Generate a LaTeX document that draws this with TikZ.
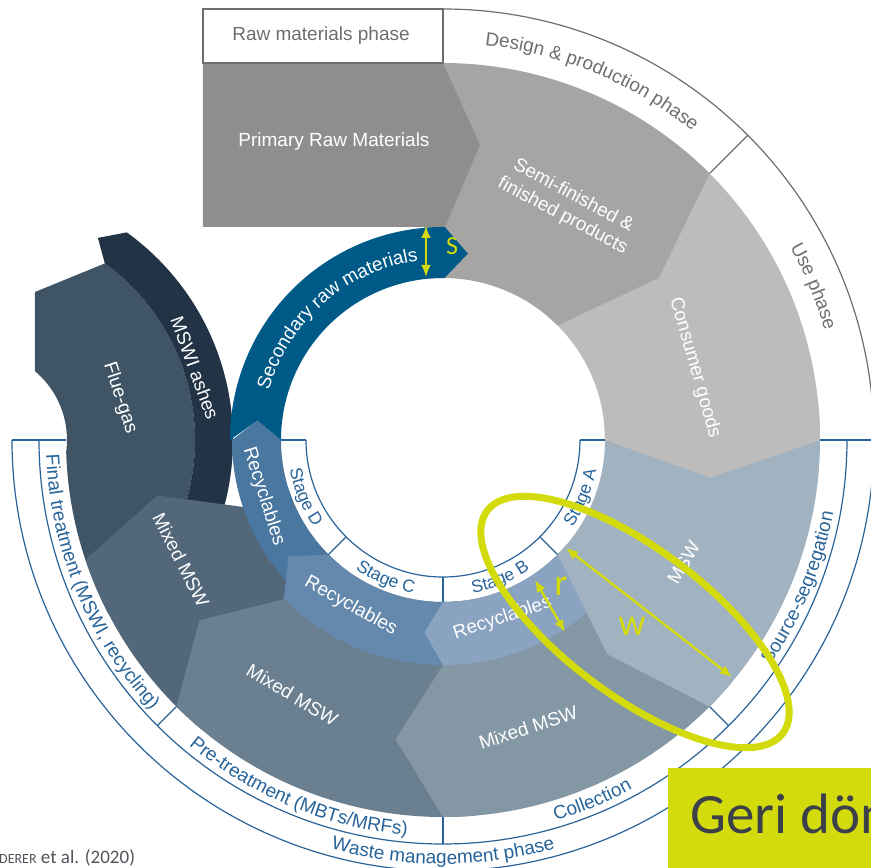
\documentclass[tikz,border=0pt]{standalone}
\usepackage{fontspec}
\setmainfont{Liberation Sans}
\newfontfamily\calfont{Carlito}
\usepackage{tikz}
\usetikzlibrary{arrows.meta, decorations.text}
\definecolor{rawgrey}{HTML}{8F8E8D}
\definecolor{semigrey}{HTML}{A6A5A4}
\definecolor{usegrey}{HTML}{BDBCBB}
\definecolor{mswblue}{HTML}{A1B3C1}
\definecolor{collmix}{HTML}{8497A5}
\definecolor{premix}{HTML}{6A7F8F}
\definecolor{finalmix}{HTML}{52677A}
\definecolor{fluegas}{HTML}{3F5566}
\definecolor{ashes}{HTML}{223345}
\definecolor{recB}{HTML}{8AA3C0}
\definecolor{recC}{HTML}{6589AD}
\definecolor{recD}{HTML}{4A77A0}
\definecolor{secblue}{HTML}{005A87}
\definecolor{ringblue}{HTML}{28649A}
\definecolor{ringgrey}{HTML}{6E6E6E}
\definecolor{hilite}{HTML}{D4DB0D}
\definecolor{boxtext}{HTML}{3C4048}
\newcommand{\bluetxt}{\fontsize{19}{21}\selectfont\color{ringblue}}
\newcommand{\greytxt}{\fontsize{19}{21}\selectfont\color{ringgrey}}
\newcommand{\stagetxt}{\fontsize{17.5}{19}\selectfont\color{ringblue}}
\newcommand{\whitetxt}{\fontsize{19}{21}\selectfont\color{white}}
\tikzset{
  lbl1/.style = {
    text = white,
    font = \fontsize{19}{23}\selectfont,
    inner sep = 0pt,
    align = center,
  }
}
\tikzset{
  ring1/.style = {draw = ringblue, line width = 1.2pt},
  ring2/.style = {draw = ringgrey, line width = 1.2pt},
}
\tikzset{
  curve1/.style = {
    decorate, decoration = {text along path, text align = center, text = {#1}},
  }
}
\tikzset{
  arrow1/.style = {
    draw = hilite, line width = 2.4pt, {Latex[length = 12pt, width = 10pt]}-{Latex[length = 12pt, width = 10pt]},
  }
}

\begin{document}
\begin{tikzpicture}[x = 1pt, y = 1pt]
        \useasboundingbox (-443,-428) rectangle (428,440);
        \clip (-443,-428) rectangle (428,440);
        \begin{scope}
            \clip (-443,0) -- (-443,440) -- (443,440) -- (443,0) -- (377,0) arc[start angle = 0, end angle = -180, radius = 377] -- cycle;
            \fill[fluegas] ([shift = {(-466,0)}]54.1:218) -- (-408,148) -- ([shift = {(-466,0)}]50:90) arc[start angle = 50, end angle = -70, radius = 90] -- ([shift = {(-466,0)}]-70:218) arc[start angle = -70, end angle = 54.1, radius = 218] -- cycle;
            \fill[ashes] ([shift = {(-466,0)}]54.2:256) -- ([shift = {(-466,0)}]59.1:235.5) -- ([shift = {(-466,0)}]54.1:218) arc[start angle = 54.1, end angle = -40, radius = 218] -- ([shift = {(-466,0)}]-40:256) arc[start angle = -40, end angle = 54.2, radius = 256] -- cycle;
        \end{scope}
        \fill[finalmix] (-130:162) arc[start angle = -130, end angle = -161.5, radius = 162] -- (-161.5:211) -- (-169:291) -- (-161.5:377) arc[start angle = -161.5, end angle = -130, radius = 377] -- cycle;
        \fill[premix] (-85:162) arc[start angle = -85, end angle = -135, radius = 162] -- (-135:225) -- (-143.5:303) -- (-135:377) arc[start angle = -135, end angle = -85, radius = 377] -- cycle;
        \fill[collmix] (-40:162) arc[start angle = -40, end angle = -90, radius = 162] -- (-90:225) -- (-99:303) -- (-90:377) arc[start angle = -90, end angle = -40, radius = 377] -- cycle;
        \fill[recD] (-130:162) arc[start angle = -130, end angle = -180, radius = 162] -- (-186:186.5) -- (-180:211) arc[start angle = -180, end angle = -130, radius = 211] -- cycle;
        \fill[recC] (-85:162) arc[start angle = -85, end angle = -135, radius = 162] -- (-143:193.5) -- (-135:225) arc[start angle = -135, end angle = -85, radius = 225] -- cycle;
        \fill[recB] (-40:162) arc[start angle = -40, end angle = -90, radius = 162] -- (-95.5:193.5) -- (-90:225) arc[start angle = -90, end angle = -40, radius = 225] -- cycle;
        \fill[mswblue] (5:162) arc[start angle = 5, end angle = -45, radius = 162] -- (-52.5:270) -- (-45:377) arc[start angle = -45, end angle = 5, radius = 377] -- cycle;
        \fill[usegrey] (50:162) arc[start angle = 50, end angle = 0, radius = 162] -- (-8:270) -- (0:377) arc[start angle = 0, end angle = 50, radius = 377] -- cycle;
        \fill[semigrey] (95:162) arc[start angle = 95, end angle = 45, radius = 162] -- (36.9:270) -- (45:377) arc[start angle = 45, end angle = 95, radius = 377] -- cycle;
        \fill[rawgrey] (-240,377) -- (0,377) -- (37,295) -- (2,213) -- (-240,213) -- cycle;
        \fill[secblue] (180:162) -- (174:186.5) -- (180:213) arc[start angle = 180, end angle = 89.5, radius = 213] -- (82.4:188) -- (89.5:162) arc[start angle = 89.5, end angle = 180, radius = 162] -- cycle;

        \draw[ring2] (-240,377) rectangle (0,431);
        \draw[ring2] (90:431) arc[start angle = 90, end angle = 0, radius = 431];
        \draw[ring2] (45:377) -- (45:431);
        \draw[ring1] (0:431) arc[start angle = 0, end angle = -180, radius = 431];
        \draw[ring1] (0:404) arc[start angle = 0, end angle = -180, radius = 404];
        \draw[ring1] (377,0) -- (431,0);
        \draw[ring1] (-377,0) -- (-431,0);
        \draw[ring1] (0:137) arc[start angle = 0, end angle = -180, radius = 137];
        \draw[ring1] (137,0) -- (162,0);
        \draw[ring1] (-137,0) -- (-162,0);
        \foreach \a in {-45,-90,-135} {
            \draw[ring1] (\a:377) -- (\a:404);
            \draw[ring1] (\a:137) -- (\a:162);
        }

        \node[text = ringgrey, font = \fontsize{19}{21}\selectfont] (rawph) at (-122,404) {Raw materials phase};
        \path[curve1 = {|\greytxt|Design {\&} production phase}] (90:397) arc[start angle = 90, end angle = 45, radius = 397];
        \path[curve1 = {|\greytxt|Use phase}] (45:397) arc[start angle = 45, end angle = 0, radius = 397];
        \path[curve1 = {|\bluetxt|Source-segregation}] (-45:397) arc[start angle = -45, end angle = 0, radius = 397];
        \path[curve1 = {|\bluetxt|Collection}] (-90:397) arc[start angle = -90, end angle = -45, radius = 397];
        \path[curve1 = {|\bluetxt|Pre-treatment (MBTs/MRFs)}] (-135:397) arc[start angle = -135, end angle = -90, radius = 397];
        \path[curve1 = {|\bluetxt|Final treatment (MSWI, recycling)}] (-180:397) arc[start angle = -180, end angle = -135, radius = 397];
        \path[curve1 = {|\bluetxt|Waste management phase}] (-120:424) arc[start angle = -120, end angle = -60, radius = 424];
        \path[curve1 = {|\stagetxt|Stage A}] (-45:156) arc[start angle = -45, end angle = 0, radius = 156];
        \path[curve1 = {|\stagetxt|Stage B}] (-90:156) arc[start angle = -90, end angle = -45, radius = 156];
        \path[curve1 = {|\stagetxt|Stage C}] (-135:156) arc[start angle = -135, end angle = -90, radius = 156];
        \path[curve1 = {|\stagetxt|Stage D}] (-180:156) arc[start angle = -180, end angle = -135, radius = 156];
        \path[curve1 = {|\whitetxt|Secondary raw materials}] (172:181) arc[start angle = 172, end angle = 90, radius = 181];

        \node[lbl1] (prim) at (-109,298) {Primary Raw Materials};
        \node[lbl1, rotate = -28] (semi) at (125,234) {Semi-finished \&\\finished products};
        \node[lbl1, rotate = -74] (cons) at (16:262) {Consumer goods};
        \node[lbl1, rotate = 60] (msw) at (-27:270) {MSW};
        \node[lbl1, rotate = 18] (mixA) at (-73.5:300) {Mixed MSW};
        \node[lbl1, rotate = -31] (mixB) at (-120.6:296) {Mixed MSW};
        \node[lbl1, rotate = -63] (mixC) at (-155.4:288) {Mixed MSW};
        \node[lbl1, rotate = -72] (flue) at (-323,42) {Flue-gas};
        \node[lbl1, rotate = -70] (ash) at (-248,72) {MSWI ashes};
        \node[lbl1, rotate = -72.5] (recD1) at (-162.5:188) {Recyclables};
        \node[lbl1, rotate = -29] (recC1) at (-119:190) {Recyclables};
        \node[lbl1, rotate = 18.5] (recB1) at (-71.5:188) {Recyclables};

        \draw[draw = hilite, line width = 7pt, rotate around = {-37:(192,-182)}] (192,-182) ellipse[x radius = 185, y radius = 73];
        \coordinate (s1) at (-17,214);
        \coordinate (s2) at (-17,163);
        \coordinate (w1) at (123,-108);
        \coordinate (w2) at (289,-237);
        \coordinate (r1) at (92,-140);
        \coordinate (r2) at (122,-192);
        \draw[arrow1] (s1) -- (s2);
        \draw[arrow1] (w1) -- (w2);
        \draw[arrow1] (r1) -- (r2);
        \node[text = hilite, font = \calfont\fontsize{26}{28}\selectfont] (slab) at (9,194) {S};
        \node[text = hilite, font = \calfont\fontsize{38}{40}\selectfont] (wlab) at (189,-186) {w};
        \node[text = hilite, font = \calfont\fontsize{38}{40}\selectfont] (rlab) at (118,-146) {r};

        \fill[hilite] (225,-328) rectangle (440,-440);
        \node[anchor = base west, inner sep = 0pt, text = boxtext, font = \calfont\fontsize{57}{60}\selectfont] (geri) at (247,-393) {Geri dön};
        \node[anchor = base west, inner sep = 0pt, text = boxtext!90, font = \calfont\fontsize{19}{21}\selectfont] (cite) at (-444,-423) {{\fontsize{14}{16}\selectfont DERER} et al. (2020)};
    \end{tikzpicture}
\end{document}
